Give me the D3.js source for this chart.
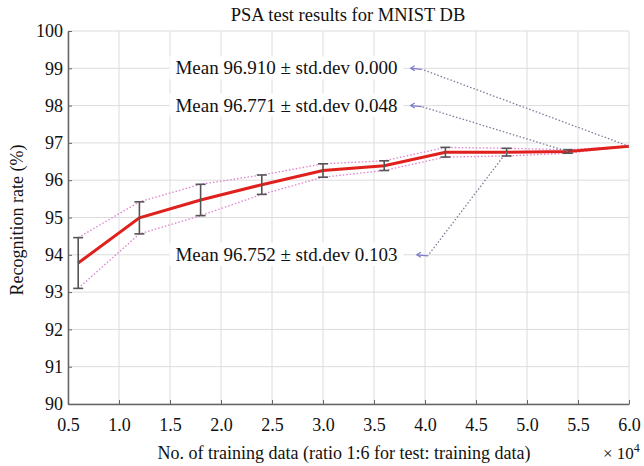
<!DOCTYPE html>
<html>
<head>
<meta charset="utf-8">
<script src="https://cdn.jsdelivr.net/npm/d3@7"></script>
<style>
  body { margin: 0; background: #fff; }
  svg { display: block; font-family: "Liberation Serif", "Times New Roman", serif; }
</style>
</head>
<body>
<svg id="chart" width="644" height="466"></svg>
<script>
// training data size (x 10^4)
var trainSizes = [0.6, 1.2, 1.8, 2.4, 3.0, 3.6, 4.2, 4.8, 5.4, 6.0];
// mean recognition rate (%)
var meanRates = [93.78, 94.99, 95.47, 95.88, 96.26, 96.39, 96.75, 96.752, 96.771, 96.91];
// standard deviation
var stdDevs = [0.68, 0.43, 0.42, 0.26, 0.18, 0.13, 0.13, 0.103, 0.048, 0.0];

var xTicks = [0.5, 1.0, 1.5, 2.0, 2.5, 3.0, 3.5, 4.0, 4.5, 5.0, 5.5, 6.0];
var yTicks = [90, 91, 92, 93, 94, 95, 96, 97, 98, 99, 100];

// annotations: text, index of the point the arrow starts at, label y value, arrow tip x
var noteTexts = ['Mean 96.910 \u00b1 std.dev 0.000', 'Mean 96.771 \u00b1 std.dev 0.048', 'Mean 96.752 \u00b1 std.dev 0.103'];
var notePoints = [9, 8, 7];
var noteLevels = [99, 98, 94];
var noteArrowX = [3.86, 3.86, 3.92];
var noteTextEnd = 3.73;

var margin = { top: 31, right: 15, bottom: 62, left: 68 };
var svg = d3.select('#chart');
var width = 644 - margin.left - margin.right;
var height = 466 - margin.top - margin.bottom;

var x = d3.scaleLinear().domain([0.5, 6.0]).range([0, width]);
var y = d3.scaleLinear().domain([90, 100]).range([height, 0]);

var g = svg.append('g').attr('transform', 'translate(' + margin.left + ',' + margin.top + ')');

// grid
g.append('g').selectAll('line').data(xTicks).enter().append('line')
  .attr('x1', function (d) { return x(d); }).attr('x2', function (d) { return x(d); })
  .attr('y1', 0).attr('y2', height)
  .attr('stroke', '#dcdcdc').attr('stroke-width', 1);
g.append('g').selectAll('line').data(yTicks).enter().append('line')
  .attr('x1', 0).attr('x2', width)
  .attr('y1', function (d) { return y(d); }).attr('y2', function (d) { return y(d); })
  .attr('stroke', '#dcdcdc').attr('stroke-width', 1);

var points = trainSizes.map(function (t, i) {
  return { x: t, m: meanRates[i], s: stdDevs[i] };
});

// mean +/- std bounds (dotted pink)
var boundLine = function (sign) {
  return d3.line().x(function (d) { return x(d.x); }).y(function (d) { return y(d.m + sign * d.s); });
};
[1, -1].forEach(function (sign) {
  g.append('path').datum(points)
    .attr('d', boundLine(sign))
    .attr('fill', 'none').attr('stroke', '#e080d0').attr('stroke-width', 1.3)
    .attr('stroke-dasharray', '1.5,2');
});

// mean line
g.append('path').datum(points)
  .attr('d', d3.line().x(function (d) { return x(d.x); }).y(function (d) { return y(d.m); }))
  .attr('fill', 'none').attr('stroke', '#e0201c').attr('stroke-width', 3);

// error bars
var errs = g.append('g').selectAll('g').data(points.filter(function (d) { return d.s > 0; })).enter().append('g')
  .attr('stroke', '#555').attr('stroke-width', 1.6);
errs.append('line')
  .attr('x1', function (d) { return x(d.x); }).attr('x2', function (d) { return x(d.x); })
  .attr('y1', function (d) { return y(d.m + d.s); }).attr('y2', function (d) { return y(d.m - d.s); });
[1, -1].forEach(function (sign) {
  errs.append('line')
    .attr('x1', function (d) { return x(d.x) - 5; }).attr('x2', function (d) { return x(d.x) + 5; })
    .attr('y1', function (d) { return y(d.m + sign * d.s); }).attr('y2', function (d) { return y(d.m + sign * d.s); });
});

// annotations
noteTexts.forEach(function (txt, i) {
  var p = points[notePoints[i]];
  var ax = x(noteArrowX[i]);
  var ay = y(noteLevels[i]);
  g.append('line')
    .attr('x1', x(p.x)).attr('y1', y(p.m)).attr('x2', ax + 11).attr('y2', ay + 1)
    .attr('stroke', '#7d7d9a').attr('stroke-width', 1.3).attr('stroke-dasharray', '1.5,2');
  g.append('line')
    .attr('x1', ax + 11).attr('y1', ay + 1).attr('x2', ax).attr('y2', ay)
    .attr('stroke', '#7b7bc8').attr('stroke-width', 1.2);
  g.append('path')
    .attr('d', 'M' + (ax + 4) + ',' + (ay - 2.5) + 'L' + ax + ',' + ay + 'L' + (ax + 4) + ',' + (ay + 2.5))
    .attr('fill', 'none').attr('stroke', '#7b7bc8').attr('stroke-width', 1.2);

  var t = g.append('text')
    .attr('x', x(noteTextEnd)).attr('y', ay + 6)
    .attr('text-anchor', 'end').attr('font-size', 19).attr('fill', '#111')
    .text(txt);
  var bb = t.node().getBBox();
  g.insert('rect', function () { return t.node(); })
    .attr('x', bb.x - 6).attr('y', bb.y - 1).attr('width', bb.width + 12).attr('height', bb.height + 2)
    .attr('fill', '#fff');
});

// axes
var xAxis = d3.axisBottom(x).tickValues(xTicks).tickFormat(d3.format('.1f')).tickSizeInner(-4).tickSizeOuter(0).tickPadding(14);
var yAxis = d3.axisLeft(y).tickValues(yTicks).tickFormat(d3.format('d')).tickSizeInner(-4).tickSizeOuter(0).tickPadding(5);

var gx = g.append('g').attr('transform', 'translate(0,' + height + ')').call(xAxis);
var gy = g.append('g').call(yAxis);
[gx, gy].forEach(function (ax) {
  ax.attr('font-family', null).attr('font-size', null);
  ax.select('.domain').attr('stroke', '#666').attr('stroke-width', 1.5);
  ax.selectAll('.tick line').attr('stroke', '#666');
  ax.selectAll('.tick text').attr('font-size', 18).attr('fill', '#111');
});

// titles
svg.append('text').attr('x', 348).attr('y', 21).attr('text-anchor', 'middle')
  .attr('font-size', 18.5).attr('fill', '#111').text('PSA test results for MNIST DB');
svg.append('text').attr('x', 344).attr('y', 459).attr('text-anchor', 'middle')
  .attr('font-size', 18).attr('fill', '#111').text('No. of training data (ratio 1:6 for test: training data)');
svg.append('text').attr('transform', 'translate(23,220) rotate(-90)')
  .attr('text-anchor', 'middle').attr('font-size', 18).attr('fill', '#111').text('Recognition rate (%)');
var mult = svg.append('text').attr('x', 603).attr('y', 459).attr('font-size', 17).attr('fill', '#111');
mult.append('tspan').text('\u00d7 10');
mult.append('tspan').attr('dy', -7).attr('font-size', 12).text('4');
</script>
</body>
</html>
